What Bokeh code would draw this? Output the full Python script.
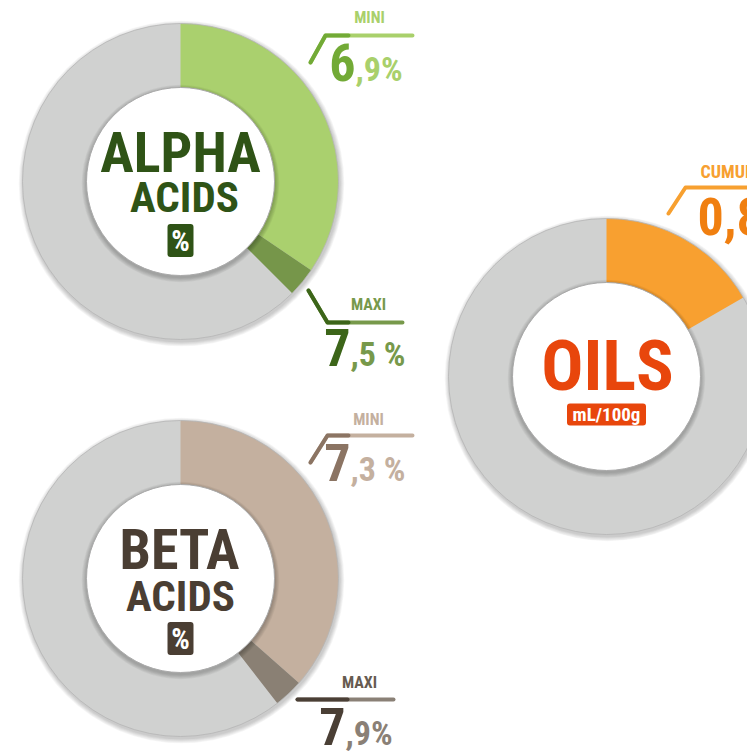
import math
from bokeh.plotting import figure
from bokeh.models import Range1d
from bokeh.core.properties import value
from bokeh.embed import file_html
from bokeh.resources import INLINE

W, H = 747, 751

# ---------------- data ----------------
alpha_range = [6.9, 7.5]          # MINI, MAXI  (%)
beta_range = [7.3, 7.9]           # MINI, MAXI  (%)
oils_cumul = [0.8]                # CUMUL (mL/100g)
acids_scale_max = 20.0
oils_scale_max = 4.8
alpha_labels = ["6,9%", "7,5 %"]
beta_labels = ["7,3 %", "7,9%"]
oils_labels = ["0,8"]
tag_labels = ["MINI", "MAXI", "CUMUL"]
title_words = [["ALPHA", "ACIDS"], ["BETA", "ACIDS"], ["OILS"]]
unit_labels = ["%", "%", "mL/100g"]

FONT = "Roboto Condensed"
GRAY = "#d0d1d0"
BASE_SHIFT = 0.375   # renderer places alphabetic baseline this many em lower

p = figure(width=W, height=H, x_range=Range1d(0, W), y_range=Range1d(0, H),
           toolbar_location=None, output_backend="svg", min_border=0,
           x_axis_type=None, y_axis_type=None)
p.grid.visible = False
p.outline_line_color = None
p.background_fill_color = "white"
p.border_fill_color = "white"


def Y(py):
    return H - py


def donut(cx, cy, values, scale_max, colors, r_out=158, r_in=94):
    for k in range(6, 0, -1):
        p.circle(x=[cx + 1], y=[Y(cy + 2)], radius=r_out + k * 0.8,
                 fill_color="black", fill_alpha=0.035, line_color=None)
    p.annulus(x=[cx], y=[Y(cy)], inner_radius=r_in - 6, outer_radius=r_out,
              fill_color=GRAY, line_color=None)
    start = 0.0
    for v, c in zip(values, colors):
        a0 = math.pi / 2 - 2 * math.pi * start / scale_max
        a1 = math.pi / 2 - 2 * math.pi * v / scale_max
        p.annular_wedge(x=[cx], y=[Y(cy)], inner_radius=r_in - 6, outer_radius=r_out,
                        start_angle=a0, end_angle=a1, direction="clock",
                        fill_color=c, line_color=None)
        start = v
    p.circle(x=[cx], y=[Y(cy)], radius=r_out, fill_color=None,
             line_color="#b5b5b5", line_width=0.8)
    for k in range(6, 0, -1):
        p.circle(x=[cx], y=[Y(cy + 2)], radius=r_in + k * 0.8,
                 fill_color="black", fill_alpha=0.04, line_color=None)
    p.circle(x=[cx], y=[Y(cy)], radius=r_in, fill_color="white",
             line_color="#a9a9a9", line_width=1)


def txt(x, y, s, size, color, align="center"):
    p.text(x=[x], y=[Y(y - BASE_SHIFT * size)], text=[s], text_font=value(FONT),
           text_font_size=f"{size}px", text_font_style="bold",
           text_color=color, text_align=align, text_baseline="alphabetic")


def badge(cx, cy, w, h, color, s, size):
    p.rect(x=[cx], y=[Y(cy)], width=w - 6, height=h - 6, fill_color=color,
           line_color=color, line_width=6, line_join="round")
    p.text(x=[cx], y=[Y(cy)], text=[s], text_font=value(FONT),
           text_font_size=f"{size}px", text_font_style="bold",
           text_color="white", text_align="center", text_baseline="middle")


def pline(xs, ys, color):
    p.line(x=xs, y=[Y(v) for v in ys], line_color=color, line_width=4,
           line_cap="round", line_join="round")


def callout(tag, tag_x, tag_y, pts, split_x, label, num_x, num_y,
            dark, light, tag_color, big=52, small=34):
    txt(tag_x, tag_y, tag, 16, tag_color)
    xs = [pt[0] for pt in pts]
    ys = [pt[1] for pt in pts]
    pline(xs, ys, light)
    pline(xs[:-1] + [split_x], ys[:-1] + [ys[-1]], dark)
    txt(num_x, num_y, label[0], big, dark, align="right")
    txt(num_x, num_y, label[1:], small, light, align="left")


# ---------------- ALPHA ----------------
donut(180, 181, alpha_range, acids_scale_max, ["#aad06e", "#76964a"])
txt(180, 173, title_words[0][0], 56, "#2f5316")
txt(184, 213, title_words[0][1], 43, "#2f5316")
badge(180, 240, 26, 33, "#2f5316", unit_labels[0], 29)
callout(tag_labels[0], 369, 23, [(310, 62), (325, 35), (412, 35)], 348,
        alpha_labels[0], 355, 81, "#72aa36", "#a9d06b", "#a9d06b")
callout(tag_labels[1], 368, 310, [(308, 290), (327, 322), (402, 322)], 348,
        alpha_labels[1], 350, 366, "#3c6519", "#77994b", "#77994b")

# ---------------- BETA ----------------
donut(180, 578, beta_range, acids_scale_max, ["#c4b09f", "#8a8074"])
txt(179, 570, title_words[1][0], 56, "#4a3e33")
txt(180, 612, title_words[1][1], 43, "#4a3e33")
badge(180, 638, 26, 33, "#4a3e33", unit_labels[1], 29)
callout(tag_labels[0], 368, 425, [(310, 462), (327, 435), (412, 435)], 348,
        beta_labels[0], 350, 481, "#8b7463", "#c4b09f", "#c4b09f")
callout(tag_labels[1], 359, 688, [(297, 699), (393, 699)], 347,
        beta_labels[1], 345, 745, "#4a3f35", "#8a8076", "#675b50")

# ---------------- OILS ----------------
donut(606, 376, oils_cumul, oils_scale_max, ["#f8a030"])
txt(607, 392, title_words[2][0], 70, "#e8460c")
badge(606, 414, 79, 22, "#e8460c", unit_labels[2], 19)
txt(700, 178, tag_labels[2], 18, "#f7a030", align="left")
pline([668, 685, 760], [213, 187, 187], "#f7a030")
txt(697, 235, oils_labels[0], 52, "#f07f10", align="left")

open("out.html", "w").write(file_html(p, INLINE))
